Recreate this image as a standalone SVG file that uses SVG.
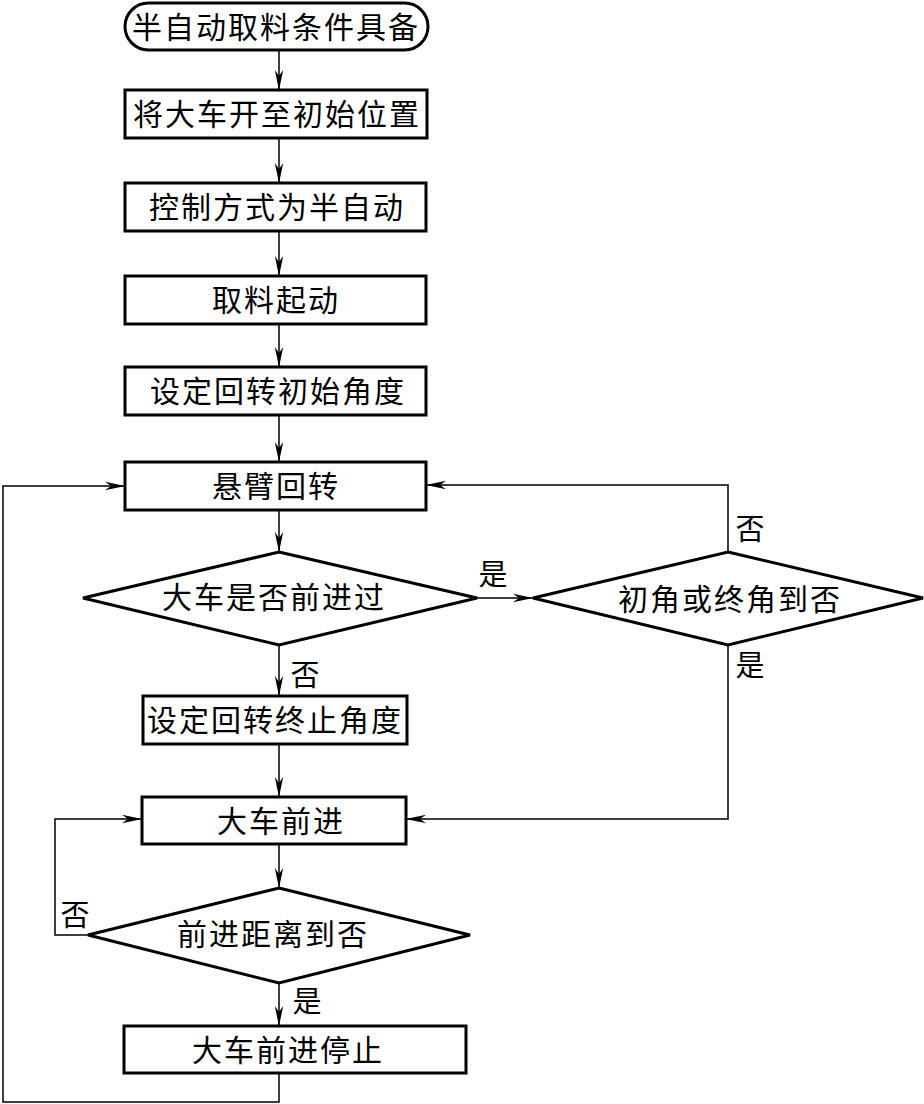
<svg xmlns="http://www.w3.org/2000/svg" width="924" height="1104" viewBox="0 0 924 1104">
<style>
.box{fill:#fff;stroke:#000;stroke-width:3}
.t{font-family:"Noto Sans CJK SC","Noto Sans CJK JP",sans-serif;font-size:30px;letter-spacing:2px;text-anchor:middle;fill:#000}
.lbl{font-family:"Noto Sans CJK SC","Noto Sans CJK JP",sans-serif;font-size:29px;text-anchor:middle;fill:#000}
.c{fill:none;stroke:#000;stroke-width:1.5}
.ca{fill:none;stroke:#000;stroke-width:1.5;marker-end:url(#ah)}
</style>
<defs>
<marker id="ah" markerUnits="userSpaceOnUse" markerWidth="22" markerHeight="10" refX="20" refY="5" orient="auto">
<path d="M0,0.8 L20,5 L0,9.2 L6,5 Z" fill="#000"/>
</marker>
</defs>
<g id="connectors">
<path class="ca" d="M279,50 V90"/>
<path class="ca" d="M279,138 V183"/>
<path class="ca" d="M279,231 V276"/>
<path class="ca" d="M279,324 V367"/>
<path class="ca" d="M279,415 V462"/>
<path class="ca" d="M279,510 V552"/>
<path class="ca" d="M477,598 H533"/>
<path class="ca" d="M728,552 V485 H426"/>
<path class="ca" d="M279,645 V696"/>
<path class="ca" d="M279,744 V797"/>
<path class="ca" d="M728,645 V819 H406"/>
<path class="ca" d="M279,844 V888"/>
<path class="ca" d="M88,935 H55 V819 H142"/>
<path class="ca" d="M279,983 V1026"/>
<path class="ca" d="M279,1073 V1102 H3 V486 H125"/>
<text class="lbl" x="750" y="540">否</text>
<text class="lbl" x="493" y="585">是</text>
<text class="lbl" x="750" y="676">是</text>
<text class="lbl" x="305" y="686">否</text>
<text class="lbl" x="75" y="926">否</text>
<text class="lbl" x="307" y="1012">是</text>
</g>
<g id="n1"><rect class="box" x="125" y="3" width="303" height="47" rx="23.5"/><text class="t" x="276" y="38">半自动取料条件具备</text></g>
<g id="n2"><rect class="box" x="125" y="90" width="302" height="48"/><text class="t" x="277" y="125">将大车开至初始位置</text></g>
<g id="n3"><rect class="box" x="125" y="183" width="301" height="48"/><text class="t" x="277" y="218">控制方式为半自动</text></g>
<g id="n4"><rect class="box" x="125" y="276" width="301" height="48"/><text class="t" x="276" y="311">取料起动</text></g>
<g id="n5"><rect class="box" x="125" y="367" width="301" height="48"/><text class="t" x="278" y="402">设定回转初始角度</text></g>
<g id="n6"><rect class="box" x="125" y="462" width="301" height="48"/><text class="t" x="276" y="497">悬臂回转</text></g>
<g id="d1"><polygon class="box" points="279,552 477,598 279,645 83,598"/><text class="t" x="274" y="608">大车是否前进过</text></g>
<g id="d2"><polygon class="box" points="728,552 923,598 728,645 533,598"/><text class="t" x="730" y="610">初角或终角到否</text></g>
<g id="n7"><rect class="box" x="143" y="696" width="264" height="48"/><text class="t" x="275" y="731">设定回转终止角度</text></g>
<g id="n8"><rect class="box" x="142" y="797" width="264" height="47"/><text class="t" x="281" y="832">大车前进</text></g>
<g id="d3"><polygon class="box" points="279,888 470,935 279,983 88,935"/><text class="t" x="273" y="945">前进距离到否</text></g>
<g id="n9"><rect class="box" x="124" y="1026" width="342" height="47"/><text class="t" x="288" y="1061">大车前进停止</text></g>
</svg>
